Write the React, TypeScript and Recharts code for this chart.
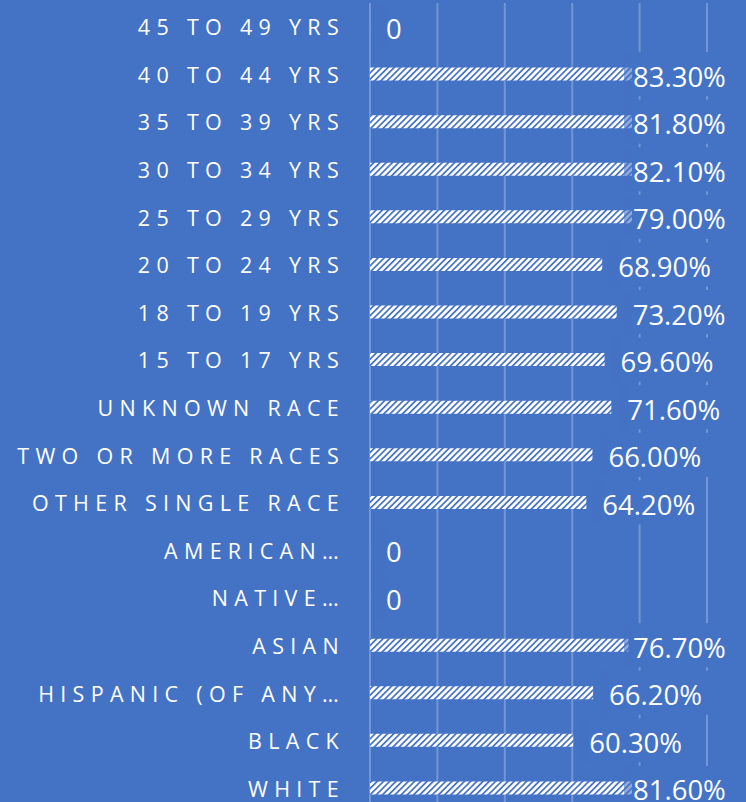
import { BarChart, Bar, XAxis, YAxis, CartesianGrid, LabelList } from "recharts";

const categories = [
  "45 TO 49 YRS",
  "40 TO 44 YRS",
  "35 TO 39 YRS",
  "30 TO 34 YRS",
  "25 TO 29 YRS",
  "20 TO 24 YRS",
  "18 TO 19 YRS",
  "15 TO 17 YRS",
  "UNKNOWN RACE",
  "TWO OR MORE RACES",
  "OTHER SINGLE RACE",
  "AMERICAN…",
  "NATIVE…",
  "ASIAN",
  "HISPANIC (OF ANY…",
  "BLACK",
  "WHITE",
];

const values = [0, 83.3, 81.8, 82.1, 79.0, 68.9, 73.2, 69.6, 71.6, 66.0, 64.2, 0, 0, 76.7, 66.2, 60.3, 81.6];

const xTicks = [0, 20, 40, 60, 80, 100];

const BG = "#4472C4";
const FONT = "'Open Sans', sans-serif";

const data = categories.map((name, i) => ({ name, value: values[i] }));

const formatValue = (v: number) => (v === 0 ? "0" : `${v.toFixed(2)}%`);

// rough Open Sans advance widths (em)
const textWidth = (s: string, size: number) => {
  let w = 0;
  for (const ch of s) {
    if (ch === ".") w += 0.266;
    else if (ch === "%") w += 0.855;
    else w += 0.572;
  }
  return w * size;
};

const CategoryTick = (props: any) => {
  const { x, y, payload } = props;
  return (
    <text
      x={x - 17}
      y={y}
      textAnchor="end"
      dominantBaseline="central"
      fill="#fff"
      fontFamily={FONT}
      fontSize={21.5}
      letterSpacing={6.3}
    >
      {payload.value}
    </text>
  );
};

const ValueLabel = (props: any) => {
  const { x, y, width, height, value } = props;
  const end = x + Math.max(width, 0);
  const cy = y + height / 2;
  const label = formatValue(Number(value));
  const tx = Math.min(end + 16, 633);
  const tw = textWidth(label, 27.5);
  return (
    <g>
      <rect x={tx - 9} y={cy - 22} width={8} height={44} fill={BG} fillOpacity={0.6} />
      <rect x={tx - 1} y={cy - 22} width={tw + 8} height={44} fill={BG} />
      <text
        x={tx}
        y={cy + 2}
        dominantBaseline="central"
        fill="#fff"
        fontFamily={FONT}
        fontSize={27.5}
      >
        {label}
      </text>
    </g>
  );
};

export default function App() {
  return (
    <div
      style={{
        position: "fixed",
        left: 0,
        top: 0,
        width: 746,
        height: 802,
        overflow: "hidden",
        background: BG,
      }}
    >
      <BarChart
        width={746}
        height={812}
        data={data}
        layout="vertical"
        margin={{ top: 3, right: 39, bottom: 0, left: 0 }}
      >
        <defs>
          <pattern
            id="hatch"
            patternUnits="userSpaceOnUse"
            width={4.4}
            height={4.4}
            patternTransform="rotate(45)"
          >
            <rect x={0} y={0} width={4.4} height={4.4} fill="#fff" />
            <rect x={0} y={0} width={1.7} height={4.4} fill={BG} />
          </pattern>
        </defs>
        <CartesianGrid
          horizontal={false}
          stroke="#fff"
          strokeOpacity={0.25}
          strokeWidth={2}
        />
        <XAxis type="number" domain={[0, 100]} ticks={xTicks} hide />
        <YAxis
          type="category"
          dataKey="name"
          width={370}
          axisLine={false}
          tickLine={false}
          tick={<CategoryTick />}
          interval={0}
        />
        <Bar
          dataKey="value"
          fill="url(#hatch)"
          barSize={13}
          minPointSize={0.01}
          isAnimationActive={false}
        >
          <LabelList dataKey="value" content={<ValueLabel />} />
        </Bar>
      </BarChart>
    </div>
  );
}
